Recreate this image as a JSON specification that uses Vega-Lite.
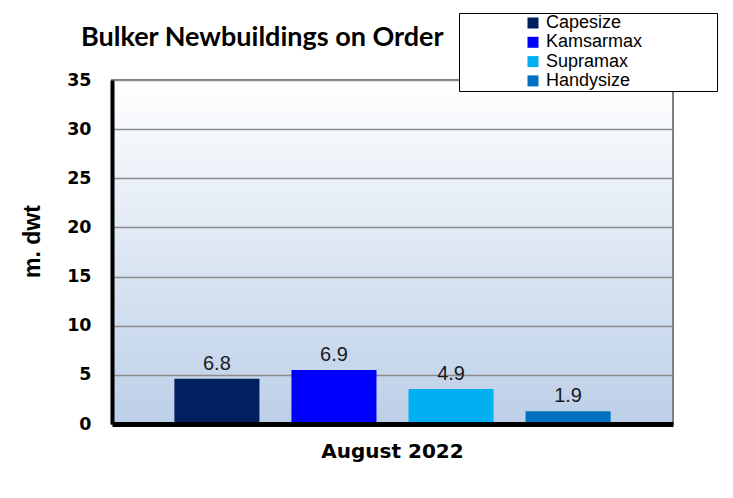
{
  "$schema": "https://vega.github.io/schema/vega-lite/v6.json",
  "width": 561,
  "height": 344,
  "autosize": {"type": "none"},
  "padding": {"left": 112, "top": 80, "right": 60, "bottom": 74},
  "background": "white",
  "title": {
    "text": "Bulker Newbuildings on Order",
    "font": "Lato",
    "fontSize": 27,
    "fontWeight": "bold",
    "color": "#000000",
    "anchor": "start",
    "frame": "group",
    "dx": -31,
    "offset": -39
  },
  "data": {
    "values": [
      {"month": "August 2022", "type": "Capesize", "value": 4.6, "label": "6.8"},
      {"month": "August 2022", "type": "Kamsarmax", "value": 5.5, "label": "6.9"},
      {"month": "August 2022", "type": "Supramax", "value": 3.55, "label": "4.9"},
      {"month": "August 2022", "type": "Handysize", "value": 1.3, "label": "1.9"}
    ]
  },
  "encoding": {
    "x": {
      "field": "month",
      "type": "nominal",
      "scale": {"paddingInner": 0, "paddingOuter": 0.143},
      "axis": {
        "title": null,
        "labelAngle": 0,
        "labelFont": "DejaVu Sans",
        "labelFontSize": 20,
        "labelFontWeight": "bold",
        "labelColor": "#000000",
        "labelPadding": 17,
        "ticks": false,
        "domainColor": "#000000",
        "domainWidth": 5,
        "zindex": 1
      }
    },
    "xOffset": {
      "field": "type",
      "type": "nominal",
      "sort": ["Capesize", "Kamsarmax", "Supramax", "Handysize"],
      "scale": {"paddingInner": 0.2735, "paddingOuter": 0}
    },
    "y": {
      "field": "value",
      "type": "quantitative",
      "scale": {"domain": [0, 35], "nice": false},
      "axis": {
        "title": "m. dwt",
        "titleFont": "Liberation Sans",
        "titleFontSize": 23,
        "titleFontWeight": "bold",
        "titleColor": "#000000",
        "titlePadding": 22,
        "titleY": 161,
        "values": [0, 5, 10, 15, 20, 25, 30, 35],
        "labelFont": "DejaVu Sans",
        "labelFontSize": 17.5,
        "labelFontWeight": "bold",
        "labelColor": "#000000",
        "labelPadding": 21,
        "ticks": false,
        "domainColor": "#000000",
        "domainWidth": 4,
        "gridColor": "#8c8c8c",
        "gridWidth": 1.5
      }
    }
  },
  "layer": [
    {
      "mark": {"type": "bar"},
      "encoding": {
        "color": {
          "field": "type",
          "type": "nominal",
          "scale": {
            "domain": ["Capesize", "Kamsarmax", "Supramax", "Handysize"],
            "range": ["#002060", "#0000FF", "#00B0F0", "#0070C0"]
          },
          "legend": {
            "orient": "none",
            "legendX": 347,
            "legendY": -67,
            "title": " ",
            "titleOrient": "right",
            "titlePadding": 74,
            "titleFontSize": 10,
            "strokeColor": "#000000",
            "fillColor": "#ffffff",
            "padding": 1,
            "rowPadding": 1.3,
            "symbolType": "square",
            "symbolSize": 121,
            "symbolStrokeWidth": 0,
            "symbolOffset": 64,
            "labelOffset": 4,
            "labelFont": "Liberation Sans",
            "labelFontSize": 18,
            "labelColor": "#000000"
          }
        }
      }
    },
    {
      "mark": {
        "type": "text",
        "font": "Liberation Sans",
        "fontSize": 20,
        "color": "#1a1a1a",
        "baseline": "bottom",
        "dy": -5
      },
      "encoding": {
        "text": {"field": "label"}
      }
    }
  ],
  "config": {
    "view": {
      "fill": {
        "gradient": "linear",
        "x1": 0, "y1": 0, "x2": 0, "y2": 1,
        "stops": [
          {"offset": 0, "color": "#ffffff"},
          {"offset": 1, "color": "#bccfe8"}
        ]
      },
      "stroke": "#808080",
      "strokeWidth": 2
    }
  }
}
